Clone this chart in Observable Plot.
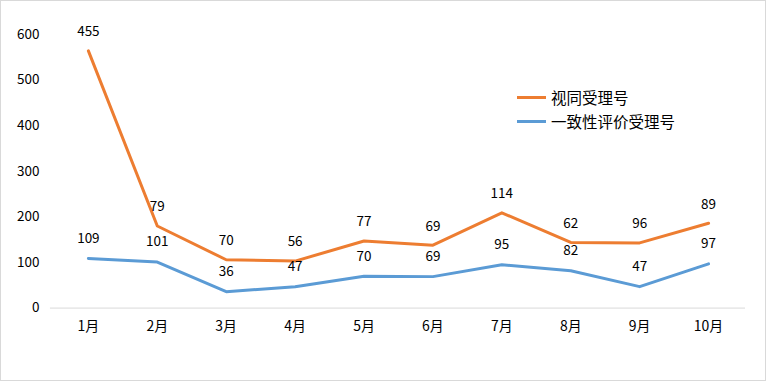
<!DOCTYPE html>
<html><head><meta charset="utf-8">
<script src="https://cdn.jsdelivr.net/npm/d3@7"></script>
<script src="https://cdn.jsdelivr.net/npm/@observablehq/plot@0.6"></script>
<style>
html,body{margin:0;padding:0;background:#fff;}
#wrap{position:relative;width:766px;height:381px;box-sizing:border-box;border:1px solid #d9d9d9;overflow:hidden;}
#chart{position:absolute;left:-1px;top:-1px;}
.legend{position:absolute;left:516px;font:15.5px "Noto Sans CJK SC",sans-serif;color:#000;display:flex;align-items:center;}
.legend span.sw{display:inline-block;width:29px;height:3px;margin-right:5px;}
.xt text{font-size:14px;}
</style></head>
<body>
<div id="wrap"><div id="chart"></div>
<div class="legend" style="top:85px"><span class="sw" style="background:#ED7D31"></span>视同受理号</div>
<div class="legend" style="top:109px"><span class="sw" style="background:#5B9BD5"></span>一致性评价受理号</div>
</div>
<script>
const months = ["1月","2月","3月","4月","5月","6月","7月","8月","9月","10月"];
const consistency = [109,101,36,47,70,69,95,82,47,97];   // 一致性评价受理号
const equivalent = [455,79,70,56,77,69,114,62,96,89];    // 视同受理号 (stacked on top)
const yTicks = [0,100,200,300,400,500,600];

const blue = months.map((m,i)=>({m, v: consistency[i], y: consistency[i]}));
const orange = months.map((m,i)=>({m, v: equivalent[i], y: consistency[i] + equivalent[i]}));

const font = '"Noto Sans CJK SC", sans-serif';
const chart = Plot.plot({
  width: 766, height: 381,
  marginLeft: 50, marginRight: 20, marginTop: 34, marginBottom: 73,
  style: {fontFamily: font, fontSize: "13.5px", color: "#000", background: "transparent"},
  x: {type: "point", domain: months, padding: 0.5, label: null, tickSize: 0, tickPadding: 13},
  y: {domain: [0, 600], ticks: yTicks, label: null, tickSize: 0, tickPadding: 11},
  marks: [
    Plot.ruleY([0], {stroke: "#d9d9d9", strokeWidth: 1}),
    Plot.axisX({tickSize: 0, tickPadding: 13, fontSize: 14, label: null}),
    Plot.line(blue, {x: "m", y: "y", stroke: "#5B9BD5", strokeWidth: 3}),
    Plot.line(orange, {x: "m", y: "y", stroke: "#ED7D31", strokeWidth: 3}),
    Plot.text(blue, {x: "m", y: "y", text: "v", dy: -20, fontSize: 13.5, fill: "#000"}),
    Plot.text(orange, {x: "m", y: "y", text: "v", dy: -19, fontSize: 13.5, fill: "#000"})
  ]
});
document.getElementById("chart").appendChild(chart);
</script>
</body></html>
